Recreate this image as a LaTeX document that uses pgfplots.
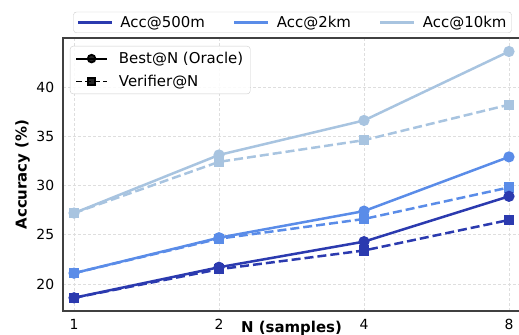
\documentclass[border=0pt]{standalone}
\usepackage{fontspec}
\setmainfont{DejaVu Sans}
\usepackage{pgfplots}
\pgfplotsset{compat=1.18}
\definecolor{cA}{RGB}{43,58,175}
\definecolor{cB}{RGB}{90,140,232}
\definecolor{cC}{RGB}{168,196,224}
\begin{document}
\begin{tikzpicture}
\begin{axis}[
  at={(63bp,24bp)}, anchor=south west,
  scale only axis, width=457bp, height=273bp,
  xmin=-0.076, xmax=3.076, ymin=17.26, ymax=44.97,
  xtick={0,1,2,3}, xticklabels={1,2,4,8},
  ytick={20,25,30,35,40},
  grid=major,
  major grid style={dash pattern=on 3bp off 2bp, black!13, line width=0.7bp},
  major tick length=0pt,
  axis line style={black!75, line width=1.1bp},
  tick label style={font=\fontsize{14}{16}\selectfont},
  /pgf/number format/assume math mode=true,
  xticklabel style={yshift=-4.5bp},
  yticklabel style={xshift=-5.3bp},
  xlabel={N (samples)}, ylabel={Accuracy (\%)},
  label style={font=\fontsize{15}{17}\selectfont\bfseries},
  xlabel style={at={(axis description cs:0.5,0)}, anchor=north, yshift=-9.5bp, inner sep=0pt},
  ylabel style={at={(axis description cs:-0.0886,0.5)}, anchor=center},
  legend style={at={(axis description cs:0.0153,0.9707)}, anchor=north west,
    draw=black!20, rounded corners=3bp, fill=white, fill opacity=0.85, text opacity=1,
    font=\fontsize{15}{17}\selectfont, row sep=6bp, inner xsep=5bp, inner ysep=4bp,
    /tikz/every odd column/.append style={column sep=9bp}},
  legend cell align=left,
  legend image code/.code={\draw[mark repeat=2,mark phase=2,#1, line width=1.8bp] plot coordinates {(0bp,0bp)(15.5bp,0bp)(31bp,0bp)};},
]
\addlegendimage{black, solid, mark=*, mark size=3.8bp}
\addlegendentry{Best@N (Oracle)}
\addlegendimage{black, dash pattern=on 6bp off 3bp, mark=square*, mark size=3.4bp, mark options={solid}}
\addlegendentry{Verifier@N}
% Acc@10km
\addplot[forget plot, cC, line width=2.5bp, mark=*, mark size=4.3bp] coordinates {(0,27.2)(1,33.1)(2,36.6)(3,43.6)};
\addplot[forget plot, cC, line width=2.5bp, dash pattern=on 9bp off 4bp, mark=square*, mark size=3.8bp, mark options={solid}] coordinates {(0,27.2)(1,32.4)(2,34.6)(3,38.2)};
% Acc@2km
\addplot[forget plot, cB, line width=2.5bp, mark=*, mark size=4.3bp] coordinates {(0,21.1)(1,24.7)(2,27.4)(3,32.9)};
\addplot[forget plot, cB, line width=2.5bp, dash pattern=on 9bp off 4bp, mark=square*, mark size=3.8bp, mark options={solid}] coordinates {(0,21.1)(1,24.6)(2,26.6)(3,29.8)};
% Acc@500m
\addplot[forget plot, cA, line width=2.5bp, mark=*, mark size=4.3bp] coordinates {(0,18.6)(1,21.7)(2,24.3)(3,28.9)};
\addplot[forget plot, cA, line width=2.5bp, dash pattern=on 9bp off 4bp, mark=square*, mark size=3.8bp, mark options={solid}] coordinates {(0,18.6)(1,21.5)(2,23.4)(3,26.5)};
\end{axis}
\begin{axis}[
  at={(63bp,24bp)}, anchor=south west,
  scale only axis, width=457bp, height=273bp,
  hide axis, xmin=0, xmax=1, ymin=0, ymax=1,
  legend columns=3,
  legend style={at={(axis description cs:0.5,1)}, anchor=south, yshift=5bp, xshift=1bp,
    draw=black!20, rounded corners=3bp, font=\fontsize{15}{17}\selectfont,
    /tikz/every odd column/.append style={column sep=5bp},
    /tikz/every even column/.append style={column sep=26bp}},
  legend image code/.code={\draw[#1, line width=3bp] (0bp,0bp) -- (34bp,0bp);},
]
\addlegendimage{cA}\addlegendentry{Acc@500m}
\addlegendimage{cB}\addlegendentry{Acc@2km}
\addlegendimage{cC}\addlegendentry{Acc@10km}
\end{axis}
\pgfresetboundingbox
\useasboundingbox (0,0) rectangle (519bp,335bp);
\end{tikzpicture}
\end{document}
